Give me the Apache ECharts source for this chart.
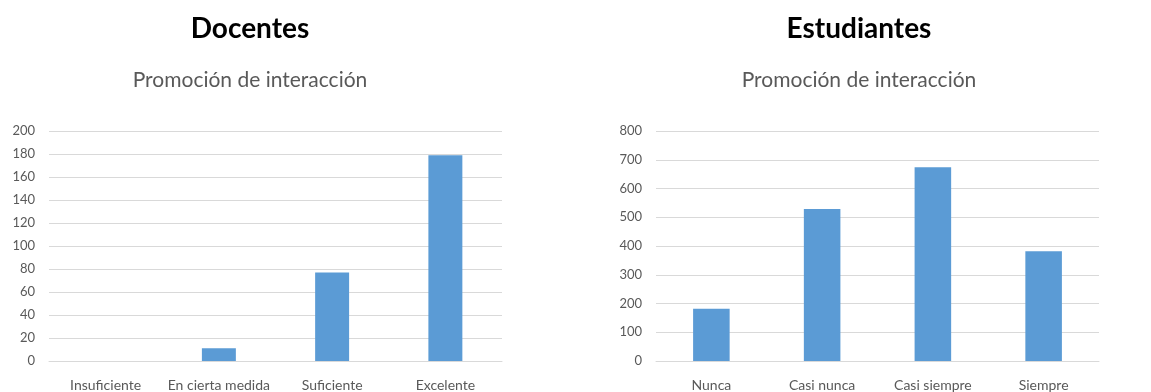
<!DOCTYPE html>
<html><head><meta charset="utf-8">
<script src="https://cdn.jsdelivr.net/npm/echarts@6/dist/echarts.min.js"></script>
<style>html,body{margin:0;padding:0;background:#fff}#c{width:1151px;height:392px}</style>
</head><body><div id="c"></div>
<script>
const docCategories = ["Insuficiente", "En cierta medida", "Suficiente", "Excelente"];
const docValues = [0, 11, 77, 179];
const estCategories = ["Nunca", "Casi nunca", "Casi siempre", "Siempre"];
const estValues = [182, 529, 674, 382];
const titles = ["Docentes", "Estudiantes"];
const subtitle = "Promoción de interacción";

const FONT = "Lato, 'Open Sans', sans-serif";
const chart = echarts.init(document.getElementById('c'), null, {renderer: 'canvas'});
const axisLabel = {color: '#595959', fontSize: 13, fontFamily: FONT};
const yAxisBase = {
  type: 'value', min: 0,
  axisLine: {show: false}, axisTick: {show: false},
  splitLine: {lineStyle: {color: '#d9d9d9', width: 1}},
  axisLabel: Object.assign({margin: 14}, axisLabel)
};
const xAxisBase = {
  type: 'category',
  axisLine: {lineStyle: {color: '#d9d9d9'}}, axisTick: {show: false},
  axisLabel: Object.assign({margin: 17, interval: 0}, axisLabel, {fontSize: 14})
};
chart.setOption({
  animation: false,
  title: [
    {text: titles[0], left: 245, top: 10, textAlign: 'center',
     textStyle: {fontFamily: FONT, fontSize: 28, fontWeight: 'bold', color: '#000'}},
    {text: subtitle, left: 245, top: 65, textAlign: 'center',
     textStyle: {fontFamily: FONT, fontSize: 21, fontWeight: 'normal', color: '#595959'}},
    {text: titles[1], left: 854, top: 10, textAlign: 'center',
     textStyle: {fontFamily: FONT, fontSize: 28, fontWeight: 'bold', color: '#000'}},
    {text: subtitle, left: 854, top: 65, textAlign: 'center',
     textStyle: {fontFamily: FONT, fontSize: 21, fontWeight: 'normal', color: '#595959'}}
  ],
  grid: [
    {left: 49, right: 649, top: 131, bottom: 30},
    {left: 656, right: 52, top: 131, bottom: 30}
  ],
  xAxis: [
    Object.assign({gridIndex: 0, data: docCategories}, xAxisBase),
    Object.assign({gridIndex: 1, data: estCategories}, xAxisBase)
  ],
  yAxis: [
    Object.assign({gridIndex: 0, max: 200, interval: 20}, yAxisBase),
    Object.assign({gridIndex: 1, max: 800, interval: 100}, yAxisBase)
  ],
  series: [
    {type: 'bar', xAxisIndex: 0, yAxisIndex: 0, data: docValues, barWidth: '30%',
     itemStyle: {color: '#5b9bd5'}},
    {type: 'bar', xAxisIndex: 1, yAxisIndex: 1, data: estValues, barWidth: '33%',
     itemStyle: {color: '#5b9bd5'}}
  ]
});
</script></body></html>
